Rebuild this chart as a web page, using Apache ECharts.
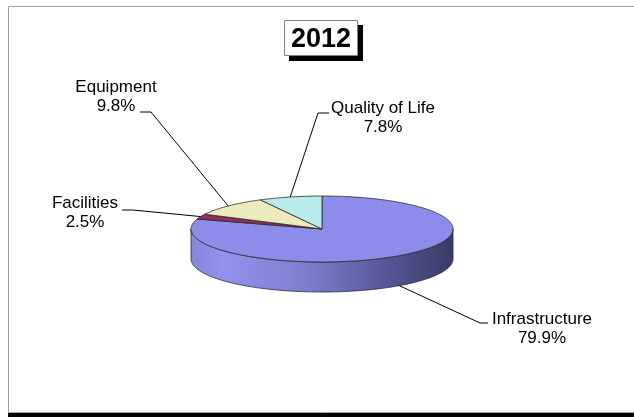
<!DOCTYPE html>
<html>
<head>
<meta charset="utf-8">
<title>2012</title>
<script src="https://cdn.jsdelivr.net/npm/echarts@6/dist/echarts.min.js"></script>
<style>
  html, body { margin: 0; padding: 0; background: #fff; }
  #chart { width: 634px; height: 417px; }
</style>
</head>
<body>
<div id="chart"></div>
<script>
// Budget shares for 2012, in percent
const categories = ['Infrastructure', 'Facilities', 'Equipment', 'Quality of Life'];
const shares = [79.9, 2.5, 9.8, 7.8];

// Slice colours (top face) in the same order
const sliceColors = ['#8c8cea', '#8e2d5e', '#ebebbe', '#baebeb'];

// Label placement: text centre and the short horizontal tick the leader starts from
const labelLayout = [
  { center: [542, 329], tick: [[488, 323], [480, 323]] },
  { center: [85, 213],  tick: [[122, 210], [133, 210]] },
  { center: [116, 97],  tick: [[140, 112], [151, 112]] },
  { center: [383, 118], tick: [[329, 113], [318, 113]] }
];

// Tilted pie geometry
const CX = 322, CY = 229, RX = 131, RY = 33, DEPTH = 30;

const total = shares.reduce((a, b) => a + b, 0);
const startAngles = [];
let acc = 0;
shares.forEach(v => { startAngles.push(acc / total * 360); acc += v; });

function pt(deg, dy) {
  const r = deg * Math.PI / 180;
  return [CX + RX * Math.sin(r), CY - RY * Math.cos(r) + (dy || 0)];
}
function arc(a0, a1, dy) {
  const pts = [];
  const n = Math.max(2, Math.ceil(Math.abs(a1 - a0)));
  for (let i = 0; i <= n; i++) pts.push(pt(a0 + (a1 - a0) * i / n, dy));
  return pts;
}

const sideGradient = {
  type: 'linear', x: 0, y: 0, x2: 1, y2: 0,
  colorStops: [
    { offset: 0, color: '#8585e0' },
    { offset: 0.12, color: '#9393ee' },
    { offset: 0.45, color: '#7c7cce' },
    { offset: 0.8, color: '#50508c' },
    { offset: 1, color: '#3a3a66' }
  ]
};

function renderSlice(params, api) {
  const i = params.dataIndex;
  const a0 = startAngles[i];
  const a1 = a0 + api.value(0) / total * 360;
  const mid = (a0 + a1) / 2;
  const children = [];

  // visible front wall (angles between 90 and 270 face the viewer)
  const s = Math.max(a0, 90), e = Math.min(a1, 270);
  if (s < e) {
    const wall = arc(s, e, 0).concat(arc(e, s, DEPTH));
    children.push({
      type: 'polygon', z2: 1,
      shape: { points: wall },
      style: { fill: sideGradient, stroke: '#2a2a3a', lineWidth: 0.8 }
    });
  }

  // top face
  children.push({
    type: 'polygon', z2: 2,
    shape: { points: [[CX, CY]].concat(arc(a0, a1, 0)) },
    style: { fill: sliceColors[i], stroke: '#2a2a2a', lineWidth: 0.8 }
  });

  // leader line: to the rim on back slices, to the bottom edge on front slices
  const front = Math.cos(mid * Math.PI / 180) < 0;
  const anchor = pt(mid, front ? DEPTH : 0);
  const lay = labelLayout[i];
  children.push({
    type: 'polyline', z2: 3,
    shape: { points: [lay.tick[0], lay.tick[1], anchor] },
    style: { stroke: '#000', lineWidth: 1, fill: null }
  });

  // label
  children.push({
    type: 'text', z2: 4,
    style: {
      text: categories[i] + '\n' + api.value(0).toFixed(1) + '%',
      x: lay.center[0], y: lay.center[1],
      align: 'center', verticalAlign: 'middle',
      fontFamily: 'Liberation Sans, Arial, sans-serif',
      fontSize: 17, lineHeight: 19, fill: '#000'
    }
  });

  return { type: 'group', children };
}

const chart = echarts.init(document.getElementById('chart'), null, { renderer: 'canvas' });
chart.setOption({
  animation: false,
  backgroundColor: '#fff',
  title: {
    text: '2012',
    left: 291, top: 26,
    padding: 0,
    textStyle: {
      fontFamily: 'Liberation Sans, Arial, sans-serif',
      fontSize: 27, fontWeight: 'bold', color: '#000', lineHeight: 28
    }
  },
  graphic: [
    // chart-area frame with its dark bottom shadow
    { type: 'rect', z: -10, shape: { x: 8, y: 413, width: 626, height: 4 }, style: { fill: '#000' } },
    { type: 'rect', z: -9, shape: { x: 8.5, y: 6.5, width: 630, height: 406 }, style: { fill: '#fff', stroke: '#a0a0a0', lineWidth: 1 } },
    // title box with drop shadow
    { type: 'rect', z: -8, shape: { x: 289, y: 25, width: 74, height: 36 }, style: { fill: '#000' } },
    { type: 'rect', z: -7, shape: { x: 284.5, y: 20.5, width: 73, height: 35 }, style: { fill: '#fff', stroke: '#808080', lineWidth: 1 } }
  ],
  series: [{
    type: 'custom',
    coordinateSystem: 'none',
    renderItem: renderSlice,
    data: shares.map((v, i) => ({ name: categories[i], value: [v] }))
  }]
});
</script>
</body>
</html>
